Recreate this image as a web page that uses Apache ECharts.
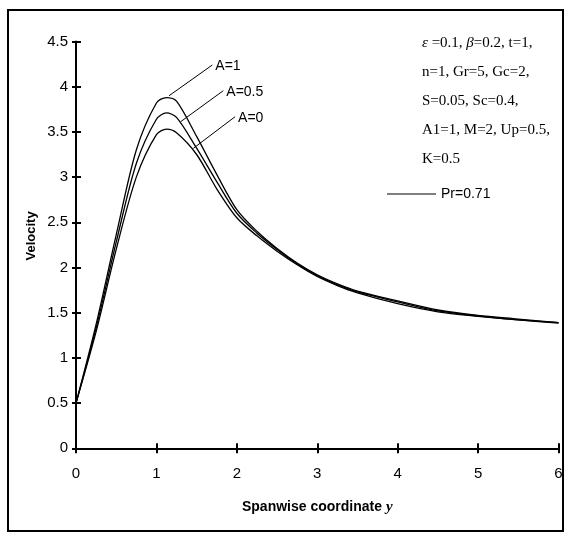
<!DOCTYPE html>
<html>
<head>
<meta charset="utf-8">
<title>Velocity profile</title>
<script src="https://cdn.jsdelivr.net/npm/echarts@6/dist/echarts.min.js"></script>
<style>
  html, body { margin: 0; padding: 0; background: #fff; }
  #velocity_chart { width: 568px; height: 536px; }
</style>
</head>
<body>
<div id="velocity_chart"></div>
<script>
// spanwise coordinate y (x axis)
var ySpan = [0, 0.25, 0.5, 0.75, 1, 1.125, 1.25, 1.5, 1.75, 2, 2.25, 2.5, 2.75, 3, 3.25, 3.5, 4, 4.5, 5, 5.5, 6];
// velocity for the three values of A
var velA1  = [0.5, 1.37, 2.36, 3.30, 3.82, 3.88, 3.84, 3.45, 3.03, 2.64, 2.40, 2.21, 2.05, 1.92, 1.82, 1.74, 1.63, 1.53, 1.47, 1.43, 1.39];
var velA05 = [0.5, 1.33, 2.28, 3.15, 3.64, 3.71, 3.66, 3.32, 2.95, 2.60, 2.38, 2.20, 2.04, 1.91, 1.81, 1.73, 1.62, 1.52, 1.465, 1.42, 1.39];
var velA0  = [0.5, 1.29, 2.20, 3.00, 3.47, 3.53, 3.49, 3.25, 2.87, 2.55, 2.35, 2.18, 2.03, 1.90, 1.80, 1.72, 1.60, 1.51, 1.46, 1.42, 1.385];
var curveNames = ['A=1', 'A=0.5', 'A=0'];
// leader lines: [point on the curve, point next to the label]
var leaders = [
    [[1.157, 3.90], [1.695, 4.24]],
    [[1.302, 3.613], [1.832, 3.956]],
    [[1.459, 3.318], [1.978, 3.668]]
];
var paramLines = [
    '{i|ε} =0.1, {i|β}=0.2, t=1,',
    'n=1, Gr=5, Gc=2,',
    'S=0.05, Sc=0.4,',
    'A1=1, M=2, Up=0.5,',
    'K=0.5'
];
var legendName = 'Pr=0.71';

function pairs(xs, vs) {
    var out = [];
    for (var i = 0; i < xs.length; i++) {
        out.push([xs[i], vs[i]]);
    }
    return out;
}

var sansFont = "'Liberation Sans', Arial, sans-serif";
var serifFont = "'Liberation Serif', 'Times New Roman', serif";

function curveSeries(name, vals, leader) {
    return {
        name: name,
        type: 'line',
        data: pairs(ySpan, vals),
        smooth: 0.3,
        showSymbol: false,
        symbol: 'none',
        lineStyle: { color: '#000', width: 1.3 },
        itemStyle: { color: '#000' },
        z: 3,
        markLine: {
            silent: true,
            symbol: 'none',
            animation: false,
            lineStyle: { color: '#000', width: 1, type: 'solid' },
            label: { show: false },
            data: [[{ coord: leader[0] }, { coord: leader[1] }]]
        }
    };
}

var baseGraphic = [{
    id: 'frame',
    type: 'rect',
    shape: { x: 8, y: 10, width: 555, height: 521 },
    style: { fill: 'none', stroke: '#000', lineWidth: 2 },
    silent: true
}, {
    id: 'params',
    type: 'text',
    x: 422, y: 28.5,
    style: {
        text: paramLines.join('\n'),
        font: '15px ' + serifFont,
        fill: '#000',
        lineHeight: 29,
        rich: {
            i: { fontStyle: 'italic', fontFamily: serifFont, fontSize: 15, lineHeight: 29 }
        }
    },
    silent: true
}];

var myChart = echarts.init(document.getElementById('velocity_chart'));
var option = {
    animation: false,
    backgroundColor: '#fff',
    grid: { left: 76, right: 9.5, top: 41.5, bottom: 87.7, containLabel: false },
    legend: {
        data: [legendName],
        left: 387,
        top: 187,
        padding: 0,
        icon: 'rect',
        itemWidth: 49,
        itemHeight: 1,
        textStyle: { color: '#000', fontFamily: sansFont, fontSize: 14 }
    },
    xAxis: [{
        type: 'value',
        min: 0, max: 6, interval: 1,
        position: 'bottom',
        name: '{a|Spanwise coordinate }{b|y}',
        nameLocation: 'middle',
        nameGap: 51,
        nameMoveOverlap: false,
        nameTextStyle: {
            rich: {
                a: { fontFamily: sansFont, fontWeight: 'bold', fontSize: 14, color: '#000' },
                b: { fontFamily: serifFont, fontWeight: 'bold', fontStyle: 'italic', fontSize: 15, color: '#000' }
            }
        },
        axisLine: { lineStyle: { color: '#000', width: 2 } },
        axisTick: { length: 5, lineStyle: { color: '#000', width: 2 } },
        axisLabel: { margin: 18, color: '#000', fontFamily: sansFont, fontSize: 15 },
        splitLine: { show: false }
    }, {
        // inner half of the crossing ticks
        type: 'value',
        min: 0, max: 6, interval: 1,
        position: 'bottom',
        axisLine: { show: false },
        axisTick: { inside: true, length: 5, lineStyle: { color: '#000', width: 2 } },
        axisLabel: { show: false },
        splitLine: { show: false }
    }],
    yAxis: [{
        type: 'value',
        min: 0, max: 4.5, interval: 0.5,
        position: 'left',
        name: 'Velocity',
        nameLocation: 'middle',
        nameGap: 38,
        nameMoveOverlap: false,
        nameTextStyle: { color: '#000', fontFamily: sansFont, fontWeight: 'bold', fontSize: 13, padding: [0, 0, 0, 18] },
        axisLine: { lineStyle: { color: '#000', width: 2 } },
        axisTick: { length: 4, lineStyle: { color: '#000', width: 2 } },
        axisLabel: { margin: 8, color: '#000', fontFamily: sansFont, fontSize: 15 },
        splitLine: { show: false }
    }, {
        type: 'value',
        min: 0, max: 4.5, interval: 0.5,
        position: 'left',
        axisLine: { show: false },
        axisTick: { inside: true, length: 5, lineStyle: { color: '#000', width: 2 } },
        axisLabel: { show: false },
        splitLine: { show: false }
    }],
    graphic: baseGraphic,
    series: [
        curveSeries(curveNames[0], velA1, leaders[0]),
        curveSeries(curveNames[1], velA05, leaders[1]),
        curveSeries(curveNames[2], velA0, leaders[2]),
        {
            name: legendName,
            type: 'line',
            data: [],
            lineStyle: { color: '#000', width: 1.3 },
            itemStyle: { color: '#000' }
        }
    ]
};
myChart.setOption(option);

// curve labels at the outer end of each leader line
var labelGraphic = baseGraphic.slice();
for (var k = 0; k < curveNames.length; k++) {
    var p = myChart.convertToPixel({ xAxisIndex: 0, yAxisIndex: 0 }, leaders[k][1]);
    labelGraphic.push({
        id: 'lbl' + k,
        type: 'text',
        x: p[0] + 3,
        y: p[1] + 1,
        style: {
            text: curveNames[k],
            font: '14px ' + sansFont,
            fill: '#000',
            align: 'left',
            verticalAlign: 'middle'
        },
        silent: true
    });
}
myChart.setOption({ graphic: labelGraphic });

window.addEventListener('resize', function () {
    myChart.resize();
});
</script>
</body>
</html>
